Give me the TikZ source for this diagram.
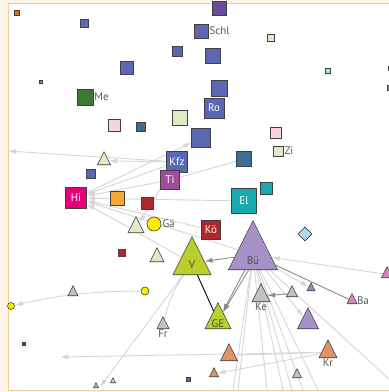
\documentclass[tikz,border=0pt]{standalone}
\usepackage{fontspec}
\setmainfont{PT Sans}
\usetikzlibrary{shapes.geometric,arrows.meta}
\pgfdeclarelayer{bg}
\pgfsetlayers{bg,main}

\definecolor{frameback}{HTML}{FEF4E6}
\definecolor{frameline}{HTML}{F9CB94}
\definecolor{norange}{HTML}{E8671E}
\definecolor{nblue}{HTML}{5B68B4}
\definecolor{ngreen}{HTML}{3B7A30}
\definecolor{npurple}{HTML}{6B4A9E}
\definecolor{lgreen}{HTML}{DEEBC6}
\definecolor{lpink}{HTML}{F8D4E2}
\definecolor{tblue}{HTML}{3D6E97}
\definecolor{nmagenta}{HTML}{E2007B}
\definecolor{yorange}{HTML}{F8A834}
\definecolor{dred}{HTML}{B1252F}
\definecolor{tipurple}{HTML}{A24B9C}
\definecolor{nteal}{HTML}{19AAB1}
\definecolor{lblue}{HTML}{AEDDF3}
\definecolor{nyellow}{HTML}{FFEA00}
\definecolor{lime}{HTML}{B9CF2C}
\definecolor{bupurple}{HTML}{A792C8}
\definecolor{ngray}{HTML}{C2C2C2}
\definecolor{salmon}{HTML}{DC9464}
\definecolor{bapink}{HTML}{D884BE}
\definecolor{spurple}{HTML}{9C87C6}

\tikzset{
  sq/.style={draw=black!75,line width=0.6pt,inner sep=0pt,minimum size=#1},
  tri/.style={isosceles triangle,isosceles triangle stretches,shape border rotate=90,
    anchor=apex,draw=black!75,line width=0.6pt,inner sep=0pt,minimum width=#1,minimum height=#1},
  dot/.style={circle,draw=black!75,line width=0.6pt,inner sep=0pt,minimum size=#1},
  lbl/.style={text=black!65,inner sep=1pt,font=\fontsize{11}{11}\selectfont},
  inlbl/.style={text=white,font=\fontsize{11}{11}\selectfont},
  link/.style={draw=black!16,line width=0.9pt},
  darklink/.style={draw=black!45,line width=0.9pt},
}

\begin{document}
\begin{tikzpicture}[x=1pt,y=-1pt,>={Latex[length=8pt,width=5pt]}]
\useasboundingbox (0,0) rectangle (389,392);
\begin{pgfonlayer}{bg}
\fill[frameback] (0,0) rectangle (389,392);
\fill[white] (8,3) rectangle (390,390);
\end{pgfonlayer}
\draw[frameline,line width=1pt] (390,3) -- (8,3) -- (8,390) -- (390,390);

% squares, upper part
\node[sq=5,fill=norange] (o1) at (17,13) {};
\node[sq=3,fill=norange] (o2) at (41,82) {};
\node[sq=8,fill=nblue] (b1) at (84,23) {};
\node[sq=10,fill=nblue] (b2) at (177,51) {};
\node[sq=13,fill=nblue] (b3) at (127,68) {};
\node[sq=16,fill=ngreen,label={[lbl]east:Me}] (me) at (85,97) {};
\node[sq=12,fill=lpink] (pk1) at (114,125) {};
\node[sq=9,fill=tblue] (tb1) at (141,127) {};
\node[sq=15,fill=lgreen] (lg1) at (180,118) {};
\node[sq=14,fill=nblue,label={[lbl]east:Schl}] (schl) at (201,31) {};
\node[sq=14,fill=npurple] (pu1) at (219,8) {};
\node[sq=7,fill=lgreen] (lg2) at (271,38) {};
\node[sq=15,fill=nblue] (b4) at (213,56) {};
\node[sq=5,fill=lblue] (lb1) at (328,71) {};
\node[sq=16,fill=nblue] (b5) at (219,88) {};
\node[sq=20,fill=nblue,inlbl] (ro) at (214,108) {Ro};
\node[sq=19,fill=nblue] (b6) at (201,138) {};
\node[sq=11,fill=lpink] (pk2) at (276,133) {};
\node[sq=10,fill=lgreen,label={[lbl]east:Zi}] (zi) at (278,151) {};
\node[sq=4,fill=black!60] (rs1) at (390,68) {};
\node[sq=5,fill=black!45] (rs2) at (390,88) {};

% squares, middle
\node[sq=21,fill=nblue,inlbl] (kfz) at (177,162) {Kfz};
\node[sq=19,fill=tipurple,inlbl] (ti) at (170,180) {Ti};
\node[sq=15,fill=tblue] (dt) at (244,159) {};
\node[sq=12,fill=nteal] (tl) at (266,188) {};
\node[sq=25,fill=nteal,inlbl] (el) at (244,201) {El};
\node[sq=19,fill=dred,inlbl] (ko) at (211,230) {Kö};
\node[diamond,draw=black!75,line width=0.6pt,inner sep=0pt,minimum size=14,fill=lblue] (dia) at (305,234) {};
\node[sq=21,fill=nmagenta,inlbl] (hi) at (76,198) {Hi};
\node[sq=14,fill=yorange] (or1) at (117,198) {};
\node[sq=12,fill=dred] (dr1) at (147,203) {};
\node[sq=9,fill=nblue] (b7) at (91,174) {};
\node[sq=7,fill=dred] (dr2) at (122,253) {};
\node[sq=3,fill=dred] (dr3) at (24,344) {};
\node[sq=4,fill=nblue] (b8) at (188,379) {};

% triangles and circles
\node[tri=13,fill=lgreen] (t1) at (104,151) {};
\node[tri=16,fill=lgreen] (t2) at (136,216) {};
\node[dot=14,fill=nyellow,label={[lbl]east:Gä}] (ga) at (154,224) {};
\node[tri=14,fill=lgreen] (t3) at (157,247) {};
\node[dot=8,fill=nyellow] (y2) at (145,291) {};
\node[dot=7,fill=nyellow] (y3) at (11,306) {};
\node[tri=10,fill=ngray] (g1) at (73,285) {};
\node[tri=12,fill=ngray,label={[lbl]below:Fr}] (fr) at (163,316) {};
\node[tri=5,fill=ngray] (ta1) at (96,382) {};
\node[tri=5,fill=lblue] (ta2) at (113,377) {};
\node[tri=49,fill=bupurple,label={[lbl,text=black!70,anchor=south,inner sep=5pt]below:Bü}] (bu) at (253,220) {};
\node[tri=38,fill=lime,label={[lbl,text=black!70,anchor=south,inner sep=6pt]below:V}] (v) at (192,236) {};
\node[tri=26,fill=lime,label={[lbl,text=black!70,anchor=south,inner sep=1pt]below:GE}] (ge) at (218,302) {};
\node[tri=18,fill=ngray,label={[lbl]below:Ke}] (ke) at (261,283) {};
\node[tri=11,fill=ngray] (g2) at (292,285) {};
\node[tri=8,fill=spurple] (pu2) at (311,282) {};
\node[tri=10,fill=bapink,label={[lbl]east:Ba}] (ba) at (352,293) {};
\node[tri=11,fill=bapink] (pk3) at (387,266) {};
\node[tri=21,fill=bupurple] (pu3) at (308,307) {};
\node[tri=17,fill=salmon] (sa1) at (229,343) {};
\node[tri=18,fill=salmon,label={[lbl]below:Kr}] (kr) at (328,339) {};
\node[tri=9,fill=salmon] (sa2) at (214,367) {};
\node[tri=9,fill=ngray] (g3) at (297,368) {};

% free ends
\coordinate (e1) at (8,151);
\coordinate (e2) at (100,387);
\coordinate (e3) at (60,357);
\coordinate (e5) at (390,380);
\coordinate (f1) at (233,390);
\coordinate (f2) at (238,390);
\coordinate (f3) at (267,390);
\coordinate (f4) at (283,390);
\coordinate (f5) at (292,390);
\coordinate (f6) at (303,390);
\coordinate (f7) at (318,390);

\begin{pgfonlayer}{bg}
\draw[link,->] (kfz) -- (e1);
\draw[link,->] (kfz) -- (t1);
\draw[link,->] (kfz) -- (hi);
\draw[link,->] (ti) -- (hi);
\draw[link,->] (el) -- (hi);
\draw[link,->] (ko) -- (hi);
\draw[link,->] (bu) -- (hi);
\draw[link,->] (v) -- (hi);
\draw[link,->] (hi) -- (b6);
\draw[link,->] (kfz) -- (t2);
\draw[link] (ti) -- (dt);
\draw[link] (v) to[bend right=10] (fr);
\draw[link,->] (v) -- (e2);
\draw[link,->] (y2) to[bend right=6] (y3);
\draw[link,->] (kr) -- (e3);
\draw[link,->] (kr) -- (sa2);
\draw[link] (sa1) -- (kr);
\draw[link,->] (bu) -- (pu2);
\draw[link,->] (bu) -- (pu3);
\draw[link,->] (pk3) -- (bu);
\draw[link] (bu) -- (e5);
\foreach \f in {f1,f2,f3,f4,f5,f6,f7}
  \draw[link] (bu) -- (\f);
\draw[darklink] (bu) -- (ba);
\draw[darklink,->] (bu) -- (v);
\draw[darklink,->] (bu) -- (ge);
\draw[darklink,->] ([xshift=5pt]bu.center) -- (ge);
\draw[darklink,->] (g2) -- (ke);
\draw[black,line width=0.9pt] (v) -- (ge);
\end{pgfonlayer}
\end{tikzpicture}
\end{document}
